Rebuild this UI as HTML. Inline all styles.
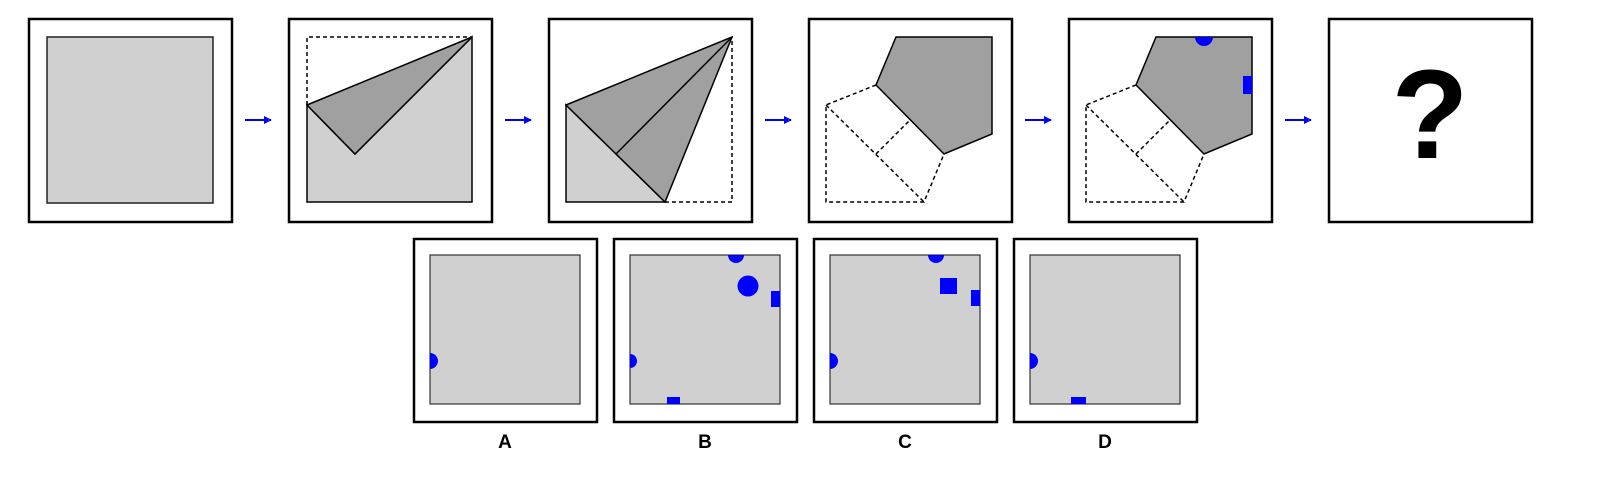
<!DOCTYPE html>
<html><head><meta charset="utf-8"><style>
html,body{margin:0;padding:0;background:#fff;width:1610px;height:490px;overflow:hidden}
svg{display:block}
text{font-family:"Liberation Sans",Arial,sans-serif;font-weight:bold}
</style></head><body>
<svg width="1610" height="490" viewBox="0 0 1610 490">
<defs>
<marker id="ah" markerWidth="8" markerHeight="8" refX="7" refY="4" orient="auto" markerUnits="userSpaceOnUse"><path d="M0,0 L8,4 L0,8 Z" fill="#0000ff"/></marker>
</defs>
<g stroke="#000" stroke-width="2.5" fill="#fff">
<rect x="29" y="19" width="203" height="203"/>
<rect x="289" y="19" width="203" height="203"/>
<rect x="549" y="19" width="203" height="203"/>
<rect x="809" y="19" width="203" height="203"/>
<rect x="1069" y="19" width="203" height="203"/>
<rect x="1329" y="19" width="203" height="203"/>
</g>
<g stroke="#0000ff" stroke-width="2" marker-end="url(#ah)">
<line x1="245" y1="120" x2="271" y2="120"/><line x1="505" y1="120" x2="531" y2="120"/>
<line x1="765" y1="120" x2="791" y2="120"/><line x1="1025" y1="120" x2="1051" y2="120"/>
<line x1="1285" y1="120" x2="1311" y2="120"/>
</g>
<!-- step 1 -->
<rect x="47" y="37" width="166" height="166" fill="#d0d0d0" stroke="#222" stroke-width="1.5"/>
<!-- step 2 -->
<g stroke="#000" stroke-width="1.5">
<polygon points="307,105 307,202 472,202 472,37 355,154" fill="#d0d0d0"/>
<polygon points="307,105 472,37 355,154" fill="#a0a0a0"/>
<polyline points="307,105 307,37 472,37" fill="none" stroke-dasharray="4,3"/>
</g>
<!-- step 3 -->
<g stroke="#000" stroke-width="1.5">
<polygon points="566,105 566,202 665,202" fill="#d0d0d0"/>
<polygon points="566,105 732,37 665,202" fill="#a0a0a0"/>
<line x1="616" y1="154" x2="732" y2="37"/>
<polyline points="665,202 732,202 732,37" fill="none" stroke-dasharray="4,3"/>
</g>
<!-- step 4 -->
<g stroke="#000" stroke-width="1.5">
<polygon points="896,37 992,37 992,134 944,154 876,85" fill="#a0a0a0"/>
<g fill="none" stroke-dasharray="4,3">
<polyline points="876,85 826,105 826,202 924,202 944,154"/>
<line x1="826" y1="105" x2="924" y2="202"/>
<line x1="876" y1="154" x2="909" y2="121"/>
</g>
</g>
<!-- step 5 -->
<g stroke="#000" stroke-width="1.5">
<polygon points="1156,37 1252,37 1252,134 1204,154 1136,85" fill="#a0a0a0"/>
<g fill="none" stroke-dasharray="4,3">
<polyline points="1136,85 1086,105 1086,202 1184,202 1204,154"/>
<line x1="1086" y1="105" x2="1184" y2="202"/>
<line x1="1136" y1="154" x2="1169" y2="121"/>
</g>
</g>
<path d="M1195,37 A9,9 0 0 0 1213,37 Z" fill="#0000ff"/>
<rect x="1243" y="76" width="9" height="18" fill="#0000ff"/>
<text x="1430" y="158" font-size="126" text-anchor="middle">?</text>
<!-- options -->
<g stroke="#000" stroke-width="2.5" fill="#fff">
<rect x="414" y="239" width="183" height="183"/>
<rect x="614" y="239" width="183" height="183"/>
<rect x="814" y="239" width="183" height="183"/>
<rect x="1014" y="239" width="183" height="183"/>
</g>
<g fill="#d0d0d0" stroke="#333" stroke-width="1.2">
<rect x="430" y="255" width="150" height="149"/>
<rect x="630" y="255" width="150" height="149"/>
<rect x="830" y="255" width="150" height="149"/>
<rect x="1030" y="255" width="150" height="149"/>
</g>
<g fill="#0000ff">
<path d="M430,353 A8,8 0 0 1 430,369 Z"/>
<path d="M728,255 A8,8 0 0 0 744,255 Z"/>
<circle cx="748" cy="286" r="10.5"/>
<rect x="771" y="291" width="9" height="16"/>
<path d="M630,354 A7,7 0 0 1 630,368 Z"/>
<rect x="667" y="397" width="13" height="7"/>
<path d="M928,255 A8,8 0 0 0 944,255 Z"/>
<rect x="940" y="278" width="17" height="16"/>
<rect x="971" y="290" width="9" height="16"/>
<path d="M830,353 A8,8 0 0 1 830,369 Z"/>
<path d="M1030,353 A8,8 0 0 1 1030,369 Z"/>
<rect x="1071" y="397" width="15" height="7"/>
</g>
<g font-size="19" text-anchor="middle">
<text x="505" y="448">A</text>
<text x="705" y="448">B</text>
<text x="905" y="448">C</text>
<text x="1105" y="448">D</text>
</g>
</svg>
</body></html>
